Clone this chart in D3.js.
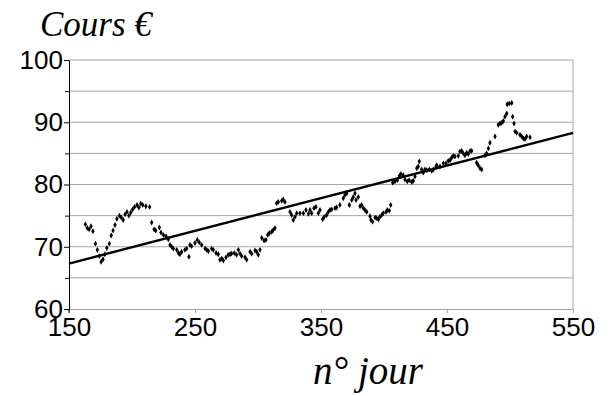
<!DOCTYPE html>
<html>
<head>
<meta charset="utf-8">
<script src="https://cdn.jsdelivr.net/npm/d3@7"></script>
<style>
  body { margin: 0; background: #fff; }
  svg { display: block; }
</style>
</head>
<body>
<div id="chart"></div>
<script>
// day numbers and prices
var jours = [163,164.5,166,167.5,169,171,172.5,174,175.5,177,178.5,180,182,183.5,185,186.5,188,190,191.5,193,194.5,196,197.5,199,200.5,202,204,205.5,207,208.5,211,214,
  215.6,217.5,218.8,221.7,223,224.9,227,228.8,230.2,231.5,232.8,235.5,236.8,238,239.4,242,243.4,245.2,246,247.3,250,251.8,253.4,255.3,258,259.3,260.6,263.2,264.5,266.7,268.5,269.8,271.2,272.5,274.6,276.4,277.8,279,281.2,283,284.4,285.7,287,289.7,291,293.7,295,297.6,299,300.2,301.6,303,304.8,306.3,307.7,309,310.9,312.1,313.5,314.8,316.1,318.8,320,321.4,325.4,326.7,328,329.4,330.7,333.3,336,
  338.1,340,341.3,342.6,344.4,346,347.9,349.2,351.3,352.6,354.5,355.8,357.1,358.5,361.1,362.4,365,367.7,369,370.4,372.5,374.4,375.6,377,377.8,379.6,381,382.3,383.6,384.9,386.3,388.9,389.7,391,392.9,394.2,395.5,396.8,398.2,399.4,401.6,402.6,404.2,405.3,406.9,408.7,410.6,412.2,413.5,415.3,
  416.7,418.5,420,422,423.3,424.6,426,427.2,428,429.9,431.2,432.5,433.9,436,437.9,439.1,441.3,441.8,444.4,447.1,449.2,451,452.4,453.7,455,456.3,459,460.3,461.7,462.9,464.3,465.6,466.9,468.3,469.6,473.5,474.8,476.2,477.5,480.2,481.5,482.8,484.1,488.1,490.7,492.1,493.4,494.7,496,497.4,497.8,499.4,501.4,502.1,503.2,504,505.3,507.9,509.3,510.6,511.9,513.2,515.9];

var cours = [73.6,73.0,72.8,73.3,72.5,70.5,69.5,68.5,67.6,68.0,68.8,69.8,70.5,71.8,72.6,73.5,74.5,75.0,74.7,74.3,75.2,75.6,75.0,75.5,76.0,76.4,76.7,76.3,76.9,76.7,76.5,76.4,
  73.9,72.8,72.6,73.1,72.3,71.9,71.7,71.2,70.3,70.0,69.7,69.5,69.0,68.8,69.2,69.5,69.7,68.4,70.3,70.1,70.6,71.1,70.7,70.3,69.7,69.5,69.3,69.7,69.5,69.0,68.8,67.9,68.1,67.8,68.3,68.7,68.8,68.9,69.0,68.7,69.5,68.9,68.5,68.3,67.9,69.2,68.9,69.4,69.2,68.7,69.5,71.4,71.0,71.1,71.9,72.2,72.4,72.7,73.0,77.0,77.2,77.4,77.6,77.2,75.6,75.1,74.3,74.8,75.4,75.4,75.4,
  75.9,75.3,75.9,75.4,76.2,76.4,75.4,75.9,74.4,74.8,75.1,75.6,75.9,76.0,76.2,76.3,76.7,77.8,78.3,78.6,76.7,77.5,78.0,78.6,77.5,78.0,76.5,76.7,76.2,75.9,75.6,74.9,74.3,74.0,74.7,74.6,74.4,74.8,75.1,75.4,75.6,75.9,75.8,76.7,80.3,80.5,80.7,81.4,81.7,81.5,
  80.8,80.5,80.7,80.4,80.6,81.3,82.6,82.9,83.7,82.4,81.9,82.4,82.3,82.4,82.2,82.4,82.8,83.1,82.9,83.4,83.4,83.8,83.9,84.3,84.6,84.5,84.6,85.3,85.4,85.0,84.7,85.1,84.9,85.4,85.4,83.5,83.1,82.6,82.4,84.7,85.0,85.8,86.7,87.7,89.6,89.8,89.9,90.2,90.9,91.4,92.9,93.0,93.1,90.9,89.8,88.5,88.3,88.0,87.7,87.4,87.3,87.7,87.6];

// linear trend line end points
var trendJours = [150, 550];
var trendCours = [67.3, 88.3];

var xTicks = [150, 250, 350, 450, 550];
var yTicks = [60, 70, 80, 90, 100];
var yMinor = [65, 75, 85, 95];
var yGrid = [65, 70, 75, 80, 85, 90, 95, 100];

var width = 610, height = 396;
var plotLeft = 69, plotRight = 573, plotTop = 60, plotBottom = 309;

var svg = d3.select("#chart")
  .append("svg")
    .attr("width", width)
    .attr("height", height);

svg.append("rect").attr("width", width).attr("height", height).attr("fill", "#fff");

var x = d3.scaleLinear().domain([150, 550]).range([plotLeft, plotRight]);
var y = d3.scaleLinear().domain([60, 100]).range([plotBottom, plotTop]);

// grid lines
svg.append("g")
  .selectAll("line")
  .data(yGrid)
  .enter()
  .append("line")
    .attr("x1", plotLeft).attr("x2", plotRight)
    .attr("y1", function (d) { return y(d); })
    .attr("y2", function (d) { return y(d); })
    .attr("stroke", "#a6a6a6")
    .attr("stroke-width", 1);

// right border of the plot area
svg.append("line")
  .attr("x1", plotRight).attr("x2", plotRight)
  .attr("y1", y(100)).attr("y2", y(60))
  .attr("stroke", "#a6a6a6");

// X axis (grey)
var xAxis = svg.append("g")
  .attr("transform", "translate(0," + y(60) + ")")
  .call(d3.axisBottom(x).tickValues(xTicks).tickSize(4).tickSizeOuter(0).tickPadding(5));
xAxis.select(".domain").attr("stroke", "#a6a6a6");
xAxis.selectAll(".tick line").attr("stroke", "#a6a6a6");
xAxis.selectAll("text")
  .attr("fill", "#000")
  .style("font-family", "'Liberation Sans', Arial, sans-serif")
  .style("font-size", "26px");

// Y axis (black)
var yAxis = svg.append("g")
  .attr("transform", "translate(" + plotLeft + ",0)")
  .call(d3.axisLeft(y).tickValues(yTicks).tickSize(5).tickSizeOuter(0).tickPadding(1));
yAxis.select(".domain").attr("stroke", "#000");
yAxis.selectAll(".tick line").attr("stroke", "#000");
yAxis.selectAll("text")
  .attr("fill", "#000")
  .style("font-family", "'Liberation Sans', Arial, sans-serif")
  .style("font-size", "26px");

// minor ticks
svg.append("g")
  .attr("transform", "translate(" + plotLeft + ",0)")
  .call(d3.axisLeft(y).tickValues(yMinor).tickSize(4).tickFormat(""))
  .call(function (g) { g.select(".domain").remove(); })
  .selectAll("line").attr("stroke", "#000");

// small extension of the y axis below the x axis
svg.append("line")
  .attr("x1", plotLeft).attr("x2", plotLeft)
  .attr("y1", y(60)).attr("y2", y(60) + 4)
  .attr("stroke", "#000");

// dots
var sym = d3.symbol().type(d3.symbolDiamond).size(10);
svg.append("g")
  .selectAll("path")
  .data(d3.zip(jours, cours))
  .enter()
  .append("path")
    .attr("d", sym)
    .attr("transform", function (d) { return "translate(" + x(d[0]) + "," + y(d[1]) + ")"; })
    .attr("fill", "#000");

// trend line
svg.append("path")
  .datum(d3.zip(trendJours, trendCours))
  .attr("d", d3.line().x(function (d) { return x(d[0]); }).y(function (d) { return y(d[1]); }))
  .attr("stroke", "#000")
  .attr("stroke-width", 2.4)
  .attr("fill", "none");

// titles
svg.append("text")
  .attr("x", 40).attr("y", 36)
  .style("font-family", "'Liberation Serif', 'Times New Roman', serif")
  .style("font-style", "italic")
  .style("font-size", "35px")
  .text("Cours €");

svg.append("text")
  .attr("x", 368).attr("y", 384)
  .attr("text-anchor", "middle")
  .style("font-family", "'Liberation Serif', 'Times New Roman', serif")
  .style("font-style", "italic")
  .style("font-size", "39px")
  .text("n° jour");
</script>
</body>
</html>
